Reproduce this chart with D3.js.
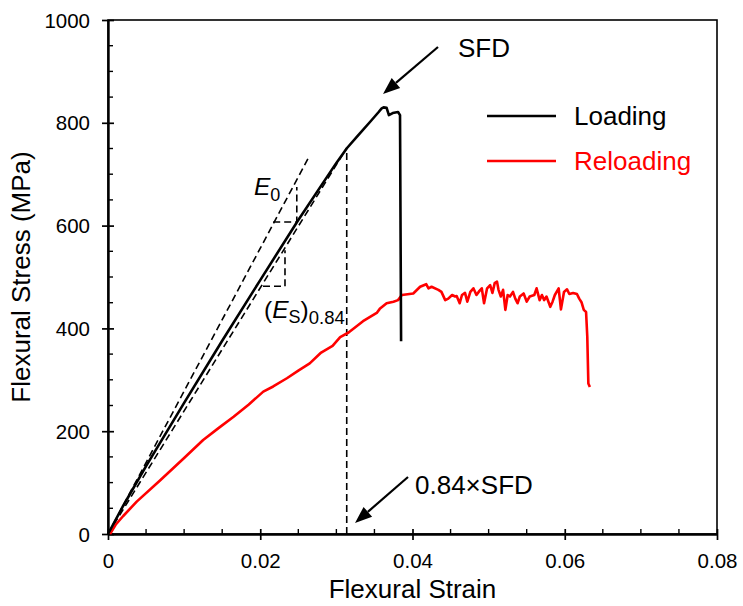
<!DOCTYPE html>
<html><head><meta charset="utf-8">
<script src="https://cdn.jsdelivr.net/npm/d3@7"></script>
<style>
html,body{margin:0;padding:0;background:#fff;}
svg{display:block;font-family:"Liberation Sans",Arial,sans-serif;}
</style></head>
<body><svg id="c" width="743" height="606"></svg>
<script>
// ---- data ----
const loadStrain = [0,0.002,0.005,0.01,0.015,0.02,0.025,0.03,0.0314,0.033,0.0345,0.0355,0.03595,0.0362,0.0366,0.0369,0.0374,0.0381,0.03836,0.0385];
const loadStress = [0,55,132,255,376,494,611,722,751,778,803,820,828,830,829,815,819,821,815,375];

const reloadStrain = [0.00026,0.001,0.002,0.00377,0.00683,0.01,0.0125,0.0146,0.0165,0.0185,0.0204,0.0217,0.0235,0.025,0.0265,0.028,0.0295,0.0305,0.0316,0.0335,0.0353,0.0357,0.0366,0.0375,0.0381,0.0386,0.0401,0.041,0.0418,0.0421,0.0425,0.0434,0.0438,0.0443,0.0447,0.0452,0.0456,0.0458,0.0462,0.0465,0.0469,0.0472,0.0476,0.048,0.0484,0.0488,0.0491,0.0494,0.0498,0.0502,0.0505,0.0508,0.0511,0.0513,0.0516,0.0519,0.0522,0.0525,0.0528,0.0532,0.0535,0.0538,0.0541,0.0546,0.055,0.0554,0.056,0.0563,0.0567,0.057,0.0573,0.0576,0.0581,0.0584,0.0587,0.0592,0.0595,0.0599,0.0603,0.0606,0.0611,0.0616,0.0619,0.0622,0.0625,0.0628,0.06296,0.0631,0.0633];
const reloadStress = [0,18,35,63,104,148,183,207,228,252,277,287,303,318,332,353,366,383,392,414,430,438,449,452,455,465,468,481,486,478,481,475,471,455,458,465,462,463,449,465,469,452,471,478,465,473,478,449,478,484,469,488,491,475,462,475,436,465,462,471,458,449,462,468,452,462,465,478,455,465,455,462,442,452,465,478,437,471,476,467,469,467,458,451,436,432,384,293,286];

const xTicks = [0,0.02,0.04,0.06,0.08];
const xTickLabels = ["0","0.02","0.04","0.06","0.08"];
const yTicks = [0,200,400,600,800,1000];
const seriesNames = ["Loading","Reloading"];
const seriesColors = ["#000000","#ff0000"];

// annotation geometry (data units)
const e0Line = [[0,0],[0.0263,731]];
const esLine = [[0,0],[0.03136,751]];
const vLine = [[0.03136,0],[0.03136,751]];
const e0Tri = [[0.0217,607],[0.0248,607],[0.0248,675]];
const esTri = [[0.02036,482],[0.02325,482],[0.02325,552]];

// ---- layout ----
const svg = d3.select("#c");
const L=108, R=717, T=20, B=534;
const x = d3.scaleLinear().domain([0,0.08]).range([L,R]);
const y = d3.scaleLinear().domain([0,1000]).range([B,T]);

// frame
svg.append("rect").attr("x",L).attr("y",T).attr("width",R-L).attr("height",B-T)
  .attr("fill","none").attr("stroke","#000").attr("stroke-width",1.6);

// minor ticks
const xMinor = d3.range(0,0.0801,0.005).filter(v=>Math.abs(v/0.02-Math.round(v/0.02))>1e-6);
const yMinor = d3.range(0,1001,50).filter(v=>v%200!==0);
const g = svg.append("g");
xMinor.forEach(v=>g.append("line").attr("x1",x(v)).attr("x2",x(v)).attr("y1",B).attr("y2",B-5).attr("stroke","#000").attr("stroke-width",1.4));
yMinor.forEach(v=>g.append("line").attr("y1",y(v)).attr("y2",y(v)).attr("x1",L).attr("x2",L+5).attr("stroke","#000").attr("stroke-width",1.4));

// axes
const xAxis = d3.axisBottom(x).tickValues(xTicks).tickFormat((d,i)=>xTickLabels[i]).tickSizeInner(6).tickSizeOuter(0).tickPadding(13);
const yAxis = d3.axisLeft(y).tickValues(yTicks).tickFormat(d3.format("d")).tickSizeInner(6).tickSizeOuter(0).tickPadding(12);
const gx = svg.append("g").attr("transform",`translate(0,${B})`).call(xAxis);
const gy = svg.append("g").attr("transform",`translate(${L},0)`).call(yAxis);
[gx,gy].forEach(a=>{
  a.select(".domain").attr("stroke","#000").attr("stroke-width",2.4);
  a.selectAll(".tick line").attr("stroke","#000").attr("stroke-width",1.7);
  a.selectAll(".tick text").attr("font-size",20.5).attr("fill","#000").attr("font-family","'Liberation Sans',Arial,sans-serif");
});
gx.selectAll(".tick line").attr("y1",-5).attr("y2",6);
gy.selectAll(".tick line").attr("x1",6).attr("x2",-6);
gx.selectAll(".tick text").attr("dy","0.71em");
gy.selectAll(".tick text").attr("dy","0.35em");

// axis titles
svg.append("text").attr("x",(L+R)/2).attr("y",598).attr("text-anchor","middle")
  .attr("font-size",26).text("Flexural Strain");
svg.append("text").attr("transform",`translate(30,${(T+B)/2}) rotate(-90)`).attr("text-anchor","middle")
  .attr("font-size",26).text("Flexural Stress (MPa)");

// dashed annotation lines
const dash = {stroke:"#000","stroke-width":1.6,"stroke-dasharray":"7,4",fill:"none"};
const lineGen = d3.line().x(d=>x(d[0])).y(d=>y(d[1]));
[e0Line,esLine,vLine,e0Tri,esTri].forEach(p=>{
  const s=svg.append("path").attr("d",lineGen(p));
  Object.entries(dash).forEach(([k,v])=>s.attr(k,v));
});

// series
const line = d3.line().x(d=>x(d[0])).y(d=>y(d[1]));
svg.append("path").datum(reloadStrain.map((v,i)=>[v,reloadStress[i]]))
  .attr("d",line).attr("fill","none").attr("stroke",seriesColors[1]).attr("stroke-width",2.6).attr("stroke-linejoin","round");
svg.append("path").datum(loadStrain.map((v,i)=>[v,loadStress[i]]))
  .attr("d",line).attr("fill","none").attr("stroke",seriesColors[0]).attr("stroke-width",2.6).attr("stroke-linejoin","round");

// legend
const legY=[116,161], legTY=[125,170];
seriesNames.forEach((n,i)=>{
  svg.append("line").attr("x1",487).attr("x2",556).attr("y1",legY[i]).attr("y2",legY[i])
    .attr("stroke",seriesColors[i]).attr("stroke-width",2.6);
  svg.append("text").attr("x",574).attr("y",legTY[i]).attr("font-size",26).attr("fill",seriesColors[i]).text(n);
});

// arrows
function arrow(x1,y1,x2,y2){
  const ang=Math.atan2(y2-y1,x2-x1), hl=17, hw=6.5;
  const bx=x2-hl*Math.cos(ang), by=y2-hl*Math.sin(ang);
  svg.append("line").attr("x1",x1).attr("y1",y1).attr("x2",bx).attr("y2",by).attr("stroke","#000").attr("stroke-width",2.2);
  const px=-Math.sin(ang)*hw, py=Math.cos(ang)*hw;
  svg.append("path").attr("d",`M${x2},${y2}L${bx+px},${by+py}L${bx-px},${by-py}Z`).attr("fill","#000");
}
arrow(438,47,383,94);
arrow(408,477,355,523);

svg.append("text").attr("x",458).attr("y",57).attr("font-size",26).text("SFD");
svg.append("text").attr("x",415).attr("y",494).attr("font-size",26).text("0.84×SFD");

// E0 label
const e0 = svg.append("text").attr("x",254).attr("y",195).attr("font-size",24.5);
e0.append("tspan").attr("font-style","italic").text("E");
e0.append("tspan").attr("font-size",18).attr("dy",6).text("0");
// (Es)0.84 label
const es = svg.append("text").attr("x",264).attr("y",318).attr("font-size",24.5);
es.append("tspan").text("(");
es.append("tspan").attr("font-style","italic").text("E");
es.append("tspan").attr("font-size",18).attr("dy",5).text("S");
es.append("tspan").attr("dy",-5).text(")");
es.append("tspan").attr("font-size",18.5).attr("dy",6).text("0.84");
</script></body></html>
